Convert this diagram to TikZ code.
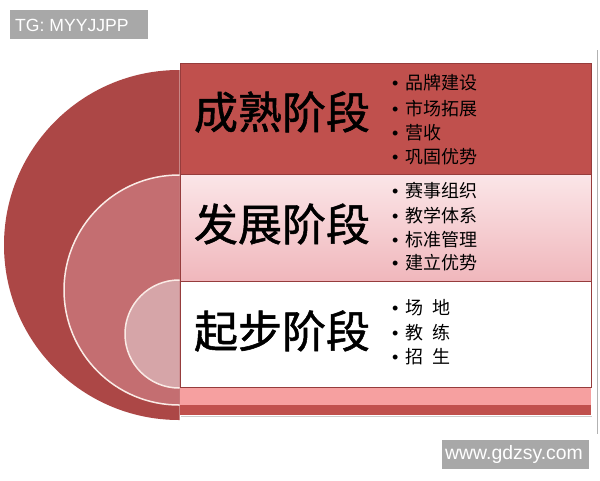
\documentclass[tikz,border=0pt]{standalone}
\usepackage{fontspec}
\setmainfont{Liberation Sans}
\newfontfamily\cjk{Noto Sans CJK SC}
\newfontfamily\cjkt[FakeBold=1.2]{Noto Sans CJK SC}
\definecolor{outerred}{RGB}{172,71,70}
\definecolor{midred}{RGB}{196,110,113}
\definecolor{innerred}{RGB}{214,165,168}
\definecolor{topred}{RGB}{192,80,77}
\definecolor{edgered}{RGB}{150,60,60}
\definecolor{pinktop}{RGB}{251,230,232}
\definecolor{pinkbot}{RGB}{240,183,188}
\definecolor{pinkstrip}{RGB}{246,160,160}
\definecolor{wmgray}{RGB}{168,168,168}
\definecolor{ringline}{RGB}{250,235,230}
\begin{document}
\begin{tikzpicture}[x=1pt,y=-1pt,
  title/.style={font=\cjkt\fontsize{44}{44}\selectfont, text=black, inner sep=0pt},
  item/.style={font=\cjk\fontsize{18}{18}\selectfont, text=black, anchor=west, inner sep=0pt},
  wmbox/.style={fill=wmgray, draw=none},
  wmtext/.style={text=white, anchor=west, inner sep=0pt}]
\useasboundingbox (0,0) rectangle (600,480);
\fill[white] (0,0) rectangle (600,480);
% half discs
\begin{scope}
  \clip (0,0) rectangle (179.5,480);
  \fill[outerred] (179,245) circle[radius=175];
  \filldraw[fill=midred, draw=ringline, line width=1.5pt] (179,290) circle[radius=115];
  \filldraw[fill=innerred, draw=ringline, line width=1.5pt] (179,334) circle[radius=54];
\end{scope}
% stacked bands
\draw[gray!40, line width=1pt] (181,416.5) -- (592,416.5);
\fill[topred] (180,405) rectangle (591,415);
\fill[pinkstrip] (180,387) rectangle (591,405);
\filldraw[draw=edgered, line width=0.8pt, fill=white] (180,281) rectangle (591,387);
\shade[top color=pinktop, bottom color=pinkbot] (180,174) rectangle (591,281);
\draw[draw=edgered, line width=0.8pt] (180,174) rectangle (591,281);
\filldraw[draw=edgered, line width=0.8pt, fill=topred] (180,63) rectangle (591,174);
\draw[gray!60, line width=0.8pt] (597.5,50) -- (597.5,434);
% titles
\node[title] (t1) at (282,112) {成熟阶段};
\node[title] (t2) at (282,224) {发展阶段};
\node[title] (t3) at (282,331) {起步阶段};
% items
\foreach \n/\y/\t in {a1/83/品牌建设, a2/109/市场拓展, a3/133/营收, a4/157/巩固优势,
                      b1/191/赛事组织, b2/216/教学体系, b3/240/标准管理, b4/263/建立优势,
                      c1/308/场\hspace{9pt}地, c2/333/教\hspace{9pt}练, c3/357/招\hspace{9pt}生}
  \node[item] (\n) at (392,\y) {\fontspec{Liberation Sans}•\hspace{7pt}\cjk\t};
% watermarks
\fill[wmbox] (10,10) rectangle (148,39);
\node[wmtext, font=\fontsize{17.6}{18}\selectfont] (wm1) at (15,25) {TG: MYYJJPP};
\fill[wmbox] (442,440) rectangle (589,469);
\node[wmtext, font=\fontsize{19.4}{20}\selectfont] (wm2) at (445,454.5) {www.gdzsy.com};
\end{tikzpicture}
\end{document}
